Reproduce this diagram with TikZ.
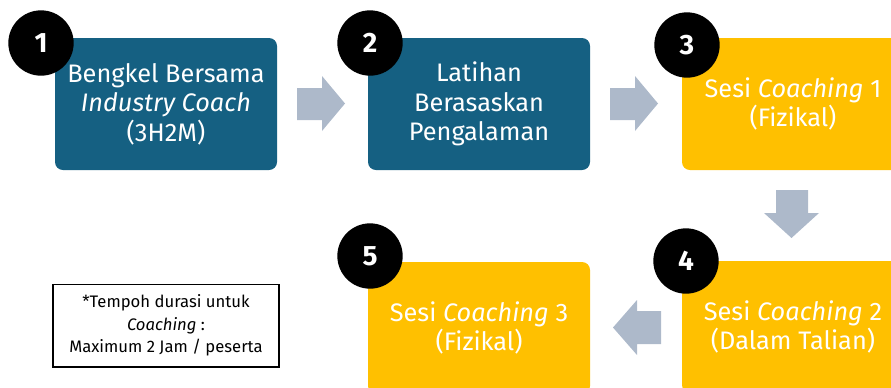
\documentclass[tikz,border=0pt]{standalone}
\usepackage{fontspec}
\setmainfont{Fira Sans}

\definecolor{stepblue}{HTML}{156082}
\definecolor{stepgold}{HTML}{FFC000}
\definecolor{arrowgray}{HTML}{ADB9CA}

\tikzset{
  stepbox/.style={rounded corners=6pt, minimum width=166.5pt, minimum height=99pt,
    inner sep=0pt, align=center, text=white, font=\fontsize{19}{22}\selectfont},
  bluebox/.style={stepbox, fill=stepblue},
  goldbox/.style={stepbox, fill=stepgold},
  numdot/.style={circle, fill=black, minimum size=49pt, inner sep=0pt, text=white,
    font=\fontsize{21}{21}\selectfont\bfseries},
  notebox/.style={draw=black, line width=1pt, minimum width=169.5pt, minimum height=62pt,
    inner sep=0pt, align=center, font=\fontsize{12.5}{17}\selectfont},
  arrowfill/.style={fill=arrowgray}
}

\begin{document}
\begin{tikzpicture}[x=0.75pt, y=-0.75pt]
\useasboundingbox (0, 0) rectangle (891, 387);
\clip (0, 0) rectangle (891, 387);

% Draw Boxes
\node[bluebox] (bengkel) at (166, 104) {Bengkel Bersama\\\textit{Industry Coach}\\(3H2M)};
\node[bluebox] (latihan) at (479, 104) {Latihan\\Berasaskan\\Pengalaman};
\node[goldbox] (sesisatu) at (793, 104) {Sesi \textit{Coaching} 1\\(Fizikal)};
\node[goldbox] (sesidua) at (793, 327) {Sesi \textit{Coaching} 2\\(Dalam Talian)};
\node[goldbox] (sesitiga) at (479, 328) {Sesi \textit{Coaching} 3\\(Fizikal)};

% Draw Numbers
\node[numdot] (num1) at (41, 43) {1};
\node[numdot] (num2) at (370, 43) {2};
\node[numdot] (num3) at (687, 45) {3};
\node[numdot] (num4) at (686, 261) {4};
\node[numdot] (num5) at (370, 256) {5};

% Draw Arrows
\fill[arrowfill] (297, 88) -- (322, 88) -- (322, 76) -- (345, 103.5) -- (322, 131) -- (322, 120) -- (297, 120) -- cycle;
\fill[arrowfill] (610, 88) -- (635, 88) -- (635, 76) -- (658, 103.5) -- (635, 131) -- (635, 120) -- (610, 120) -- cycle;
\fill[arrowfill] (776, 190) -- (808, 190) -- (808, 213) -- (819, 213) -- (791.5, 238) -- (764, 213) -- (776, 213) -- cycle;
\fill[arrowfill] (661, 311) -- (637, 311) -- (637, 300) -- (613, 327.5) -- (637, 355) -- (637, 344) -- (661, 344) -- cycle;

% Draw Note
\node[notebox] (catatan) at (166, 325.5) {*Tempoh durasi untuk\\\textit{Coaching} :\\Maximum 2 Jam / peserta};
\end{tikzpicture}
\end{document}
